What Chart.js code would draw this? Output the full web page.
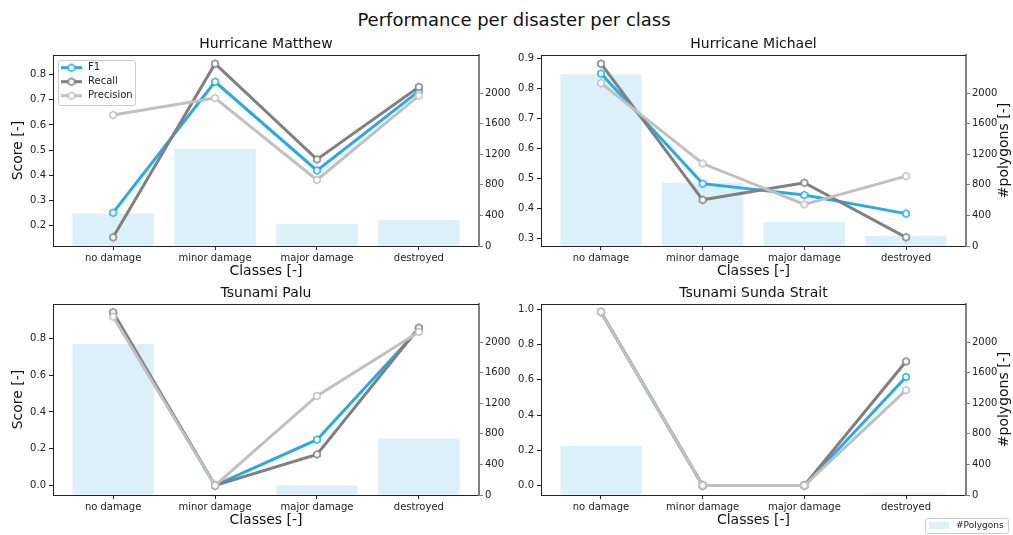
<!DOCTYPE html>
<html>
<head>
<meta charset="utf-8">
<script src="https://cdn.jsdelivr.net/npm/chart.js@4/dist/chart.umd.min.js"></script>
<style>
    body {
        margin: 0;
        width: 1013px;
        height: 535px;
        background: #fff;
        position: relative;
        overflow: hidden;
        font-family: 'DejaVu Sans', sans-serif;
    }
    canvas {
        position: absolute;
    }
    .suptitle {
        position: absolute;
        top: 10px;
        left: 0;
        width: 1028px;
        text-align: center;
        font-size: 18px;
        line-height: 20px;
        color: #111;
    }
</style>
</head>
<body>
<div class="suptitle">Performance per disaster per class</div>
<canvas id="chart_0" width="530" height="250" style="left:0;top:30px"></canvas>
<canvas id="chart_1" width="507" height="250" style="left:506px;top:30px"></canvas>
<canvas id="chart_2" width="530" height="255" style="left:0;top:280px"></canvas>
<canvas id="chart_3" width="507" height="255" style="left:506px;top:280px"></canvas>
<script>
const categories = ['no damage', 'minor damage', 'major damage', 'destroyed'];
const disasters = ['Hurricane Matthew', 'Hurricane Michael', 'Tsunami Palu', 'Tsunami Sunda Strait'];
const metrics = ['F1', 'Recall', 'Precision'];

const matthew_f1 = [0.251, 0.772, 0.419, 0.735];
const matthew_recall = [0.153, 0.844, 0.463, 0.751];
const matthew_precision = [0.640, 0.707, 0.381, 0.717];
const matthew_polygons = [424, 1269, 287, 341];

const michael_f1 = [0.851, 0.484, 0.446, 0.384];
const michael_recall = [0.884, 0.430, 0.487, 0.305];
const michael_precision = [0.819, 0.551, 0.415, 0.509];
const michael_polygons = [2248, 827, 315, 135];

const palu_f1 = [0.930, 0.0, 0.249, 0.850];
const palu_recall = [0.942, 0.0, 0.169, 0.858];
const palu_precision = [0.918, 0.0, 0.487, 0.835];
const palu_polygons = [1975, 0, 125, 741];

const sunda_f1 = [0.985, 0.0, 0.0, 0.616];
const sunda_recall = [0.985, 0.0, 0.0, 0.704];
const sunda_precision = [0.985, 0.0, 0.0, 0.541];
const sunda_polygons = [640, 0, 6, 22];

const polygon_ticks = [0, 400, 800, 1200, 1600, 2000];
const matthew_score_ticks = [0.2, 0.3, 0.4, 0.5, 0.6, 0.7, 0.8];
const michael_score_ticks = [0.3, 0.4, 0.5, 0.6, 0.7, 0.8, 0.9];
const palu_score_ticks = [0.0, 0.2, 0.4, 0.6, 0.8];
const sunda_score_ticks = [0.0, 0.2, 0.4, 0.6, 0.8, 1.0];

const F1_COLOR = '#29abe2';
const RECALL_COLOR = '#808080';
const PRECISION_COLOR = '#c0c0c0';
const BAR_COLOR = 'rgba(135, 206, 235, 0.3)';
const TEXT_COLOR = '#222';

Chart.defaults.font.family = "'DejaVu Sans', sans-serif";
Chart.defaults.font.size = 10;
Chart.defaults.color = TEXT_COLOR;

// matplotlib style 'h' marker, white face
function hexMarker(color) {
    const c = document.createElement('canvas');
    c.width = 12;
    c.height = 12;
    const g = c.getContext('2d');
    g.beginPath();
    for (let i = 0; i < 6; i++) {
        const a = Math.PI / 2 + i * Math.PI / 3;
        g.lineTo(6 + 3.6 * Math.cos(a), 6 - 3.6 * Math.sin(a));
    }
    g.closePath();
    g.fillStyle = '#fff';
    g.fill();
    g.lineWidth = 1.5;
    g.strokeStyle = color;
    g.stroke();
    return c;
}

const topFrame = {
    id: 'topFrame',
    afterDraw(chart) {
        const {ctx, chartArea} = chart;
        ctx.save();
        ctx.strokeStyle = TEXT_COLOR;
        ctx.lineWidth = 1;
        ctx.beginPath();
        ctx.moveTo(chartArea.left, Math.round(chartArea.top) + 0.5);
        ctx.lineTo(chartArea.right, Math.round(chartArea.top) + 0.5);
        ctx.stroke();
        ctx.restore();
    }
};

// right ylabel reads bottom-to-top like matplotlib
const polygonsLabel = {
    id: 'polygonsLabel',
    afterDraw(chart) {
        const {ctx, chartArea, width} = chart;
        ctx.save();
        ctx.translate(width - 9, (chartArea.top + chartArea.bottom) / 2);
        ctx.rotate(-Math.PI / 2);
        ctx.font = "14px 'DejaVu Sans'";
        ctx.textAlign = 'center';
        ctx.textBaseline = 'middle';
        ctx.fillStyle = '#111';
        ctx.fillText('#polygons [-]', 0, 0);
        ctx.restore();
    }
};

function roundBox(ctx, x, y, w, h, r) {
    ctx.beginPath();
    ctx.roundRect(x + 0.5, y + 0.5, w, h, r);
    ctx.fillStyle = 'rgba(255,255,255,0.8)';
    ctx.fill();
    ctx.strokeStyle = '#cccccc';
    ctx.lineWidth = 1;
    ctx.stroke();
}

const scoreLegend = {
    id: 'scoreLegend',
    afterDraw(chart) {
        const {ctx, chartArea} = chart;
        const lines = chart.data.datasets.filter(ds => ds.type === 'line');
        const x0 = chartArea.left + 5;
        const y0 = chartArea.top + 5;
        ctx.save();
        roundBox(ctx, x0, y0, 77, 45, 2);
        ctx.font = "10px 'DejaVu Sans'";
        ctx.textBaseline = 'middle';
        ctx.fillStyle = TEXT_COLOR;
        lines.forEach((ds, i) => {
            const y = y0 + 7.7 + i * 14;
            ctx.strokeStyle = ds.borderColor;
            ctx.lineWidth = 3;
            ctx.beginPath();
            ctx.moveTo(x0 + 3, y);
            ctx.lineTo(x0 + 24, y);
            ctx.stroke();
            ctx.drawImage(ds.pointStyle, x0 + 13.5 - 6, y - 6);
            ctx.fillText(ds.label, x0 + 30, y);
        });
        ctx.restore();
    }
};

const polygonLegend = {
    id: 'polygonLegend',
    afterDraw(chart) {
        const {ctx, width, height} = chart;
        const bars = chart.data.datasets.find(ds => ds.type === 'bar');
        const x0 = width - 88;
        const y0 = height - 17;
        ctx.save();
        roundBox(ctx, x0, y0, 83, 15, 2);
        ctx.fillStyle = bars.backgroundColor;
        ctx.fillRect(x0 + 4, y0 + 4, 20, 7);
        ctx.font = "9px 'DejaVu Sans'";
        ctx.textBaseline = 'middle';
        ctx.fillStyle = TEXT_COLOR;
        ctx.fillText(bars.label, x0 + 31, y0 + 8);
        ctx.restore();
    }
};

const panels = [
    {f1: matthew_f1, recall: matthew_recall, precision: matthew_precision, polygons: matthew_polygons, ticks: matthew_score_ticks},
    {f1: michael_f1, recall: michael_recall, precision: michael_precision, polygons: michael_polygons, ticks: michael_score_ticks},
    {f1: palu_f1, recall: palu_recall, precision: palu_precision, polygons: palu_polygons, ticks: palu_score_ticks},
    {f1: sunda_f1, recall: sunda_recall, precision: sunda_precision, polygons: sunda_polygons, ticks: sunda_score_ticks},
];

const layouts = [
    {range: [0.1185, 0.8785], left: 53, right: 51, bottom: 34, titlePad: {top: 5.6, bottom: 2.6}, xTitlePad: 0, scoreTitle: true, plugins: [topFrame, scoreLegend]},
    {range: [0.276, 0.913], left: 35, right: 47, bottom: 34, titlePad: {top: 5.6, bottom: 2.6}, xTitlePad: 0, scoreTitle: false, plugins: [topFrame, polygonsLabel]},
    {range: [-0.052, 0.987], left: 53, right: 51, bottom: 40, titlePad: {top: 4.9, bottom: 2.3}, xTitlePad: 6.6, scoreTitle: true, plugins: [topFrame]},
    {range: [-0.054, 1.03], left: 35, right: 47, bottom: 40, titlePad: {top: 4.9, bottom: 2.3}, xTitlePad: 6.6, scoreTitle: false, plugins: [topFrame, polygonsLabel, polygonLegend]},
];

const points = values => values.map((v, i) => ({x: i, y: v}));

function lineDataset(label, values, color, order) {
    return {
        type: 'line',
        label,
        data: points(values),
        borderColor: color,
        backgroundColor: color,
        borderWidth: 3,
        pointStyle: hexMarker(color),
        pointRadius: 4,
        tension: 0,
        yAxisID: 'y',
        order,
    };
}

function makeChart(index) {
    const panel = panels[index];
    const lay = layouts[index];
    const ctx = document.getElementById(`chart_${index}`);

    return new Chart(ctx, {
        type: 'bar',
        data: {
            datasets: [
                lineDataset(metrics[0], panel.f1, F1_COLOR, 3),
                lineDataset(metrics[1], panel.recall, RECALL_COLOR, 2),
                lineDataset(metrics[2], panel.precision, PRECISION_COLOR, 1),
                {
                    type: 'bar',
                    label: '#Polygons',
                    data: points(panel.polygons),
                    backgroundColor: BAR_COLOR,
                    borderWidth: 0,
                    categoryPercentage: 0.8,
                    barPercentage: 1,
                    yAxisID: 'y2',
                    order: 4,
                }
            ]
        },
        options: {
            responsive: false,
            animation: false,
            devicePixelRatio: 1,
            layout: {padding: 0, autoPadding: false},
            plugins: {
                legend: {display: false},
                tooltip: {enabled: false},
                title: {
                    display: true,
                    text: disasters[index],
                    fullSize: false,
                    color: '#111',
                    font: {size: 14, weight: 'normal', lineHeight: 1.2},
                    padding: lay.titlePad,
                }
            },
            scales: {
                x: {
                    type: 'linear',
                    position: 'bottom',
                    offset: false,
                    min: -0.59,
                    max: 3.59,
                    afterBuildTicks: s => { s.ticks = categories.map((c, i) => ({value: i})); },
                    afterFit: s => { s.height = lay.bottom; },
                    grid: {display: true, offset: false, drawOnChartArea: false, drawTicks: true, tickLength: 4, tickColor: TEXT_COLOR},
                    border: {display: true, color: TEXT_COLOR, width: 1},
                    ticks: {padding: 2, autoSkip: false, maxRotation: 0, callback: v => categories[v]},
                    title: {display: true, text: 'Classes [-]', color: '#111', font: {size: 14, lineHeight: 1.2}, padding: {top: 0, bottom: lay.xTitlePad}},
                },
                y: {
                    type: 'linear',
                    position: 'left',
                    min: lay.range[0],
                    max: lay.range[1],
                    afterBuildTicks: s => { s.ticks = panel.ticks.map(v => ({value: v})); },
                    afterFit: s => { s.width = lay.left; },
                    grid: {display: true, drawOnChartArea: false, drawTicks: true, tickLength: 4, tickColor: TEXT_COLOR},
                    border: {display: true, color: TEXT_COLOR, width: 1},
                    ticks: {padding: 3, callback: v => v.toFixed(1)},
                    title: {display: lay.scoreTitle, text: 'Score [-]', color: '#111', font: {size: 14, lineHeight: 1.2}, padding: {top: 10, bottom: 0}},
                },
                y2: {
                    type: 'linear',
                    position: 'right',
                    min: 0,
                    max: 2500,
                    afterBuildTicks: s => { s.ticks = polygon_ticks.map(v => ({value: v})); },
                    afterFit: s => { s.width = lay.right; },
                    grid: {display: true, drawOnChartArea: false, drawTicks: true, tickLength: 4, tickColor: RECALL_COLOR},
                    border: {display: true, color: RECALL_COLOR, width: 2},
                    ticks: {padding: 2, callback: v => String(v)},
                }
            }
        },
        plugins: lay.plugins
    });
}

const charts = [0, 1, 2, 3].map(makeChart);
</script>
</body>
</html>
